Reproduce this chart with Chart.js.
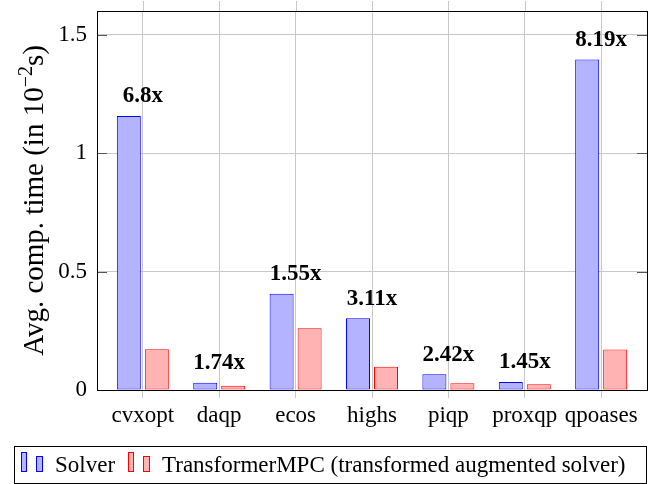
<!DOCTYPE html>
<html>
<head>
<meta charset="utf-8">
<script src="https://cdn.jsdelivr.net/npm/chart.js@4"></script>
<style>
  html, body { margin: 0; padding: 0; background: #fff; }
</style>
</head>
<body>
<canvas id="chart" width="656" height="484"></canvas>
<script>
const categories = ["cvxopt", "daqp", "ecos", "highs", "piqp", "proxqp", "qpoases"];
const solverTimes = [1.157, 0.031, 0.406, 0.303, 0.067, 0.034, 1.395];
const transformerTimes = [0.172, 0.018, 0.261, 0.098, 0.028, 0.024, 0.171];
const speedups = ["6.8x", "1.74x", "1.55x", "3.11x", "2.42x", "1.45x", "8.19x"];
const yTicks = [0, 0.5, 1, 1.5];
const seriesNames = ["Solver", "TransformerMPC (transformed augmented solver)"];

const FONT = "'Liberation Serif', 'Times New Roman', serif";
const gridColor = "#c8c8c8";
const blueFill = "#b3b3ff", blueLine = "#0000ff";
const redFill = "#ffb3b3", redLine = "#ff0000";

// axis box, inner ticks, speedup labels, y title and legend
const extrasPlugin = {
    id: "extras",
    afterDraw(chart) {
        const ctx = chart.ctx;
        const area = chart.chartArea;
        const xs = chart.scales.x, ys = chart.scales.y;
        ctx.save();

        // grid lines poke out above the box
        ctx.strokeStyle = gridColor;
        ctx.lineWidth = 1;
        categories.forEach((c, i) => {
            let x = Math.round(xs.getPixelForValue(i)) + 0.5;
            ctx.beginPath();
            ctx.moveTo(x, area.top - 10);
            ctx.lineTo(x, area.top);
            ctx.stroke();
        });

        // y ticks inside, both sides
        ctx.strokeStyle = "#555";
        yTicks.forEach(v => {
            let y = Math.round(ys.getPixelForValue(v)) + 0.5;
            ctx.beginPath();
            ctx.moveTo(area.left, y);
            ctx.lineTo(area.left + 10, y);
            ctx.moveTo(area.right - 10, y);
            ctx.lineTo(area.right, y);
            ctx.stroke();
        });

        // box
        ctx.strokeStyle = "#000";
        ctx.strokeRect(Math.round(area.left) + 0.5, Math.round(area.top) + 0.5,
            Math.round(area.right - area.left), Math.round(area.bottom - area.top));

        // speedup labels
        ctx.fillStyle = "#000";
        ctx.font = "bold 23px " + FONT;
        ctx.textAlign = "center";
        ctx.textBaseline = "alphabetic";
        speedups.forEach((s, i) => {
            ctx.fillText(s, xs.getPixelForValue(i), ys.getPixelForValue(solverTimes[i]) - 13.5);
        });

        // y title with superscript
        const parts = [
            { t: "Avg. comp. time (in 10", size: 29, dy: 0 },
            { t: "\u22122", size: 20, dy: -11 },
            { t: "s)", size: 29, dy: 0 }
        ];
        let total = 0;
        parts.forEach(p => {
            ctx.font = p.size + "px " + FONT;
            p.w = ctx.measureText(p.t).width;
            total += p.w;
        });
        ctx.translate(43, (area.top + area.bottom) / 2);
        ctx.rotate(-Math.PI / 2);
        ctx.textAlign = "left";
        let cx = -total / 2;
        parts.forEach(p => {
            ctx.font = p.size + "px " + FONT;
            ctx.fillText(p.t, cx, p.dy);
            cx += p.w;
        });
        ctx.setTransform(1, 0, 0, 1, 0, 0);

        // legend
        ctx.strokeStyle = "#000";
        ctx.strokeRect(14.5, 446.5, 632, 37);
        const drawIcon = (x, fill, line) => {
            ctx.fillStyle = fill;
            ctx.strokeStyle = line;
            ctx.fillRect(x + 0.5, 452.5, 5, 19);
            ctx.strokeRect(x + 0.5, 452.5, 5, 19);
            ctx.fillRect(x + 15.5, 456.5, 6, 15);
            ctx.strokeRect(x + 15.5, 456.5, 6, 15);
        };
        drawIcon(21, blueFill, blueLine);
        drawIcon(128, redFill, redLine);
        ctx.fillStyle = "#000";
        ctx.font = "23px " + FONT;
        ctx.textAlign = "left";
        ctx.fillText(seriesNames[0], 55, 472);
        ctx.fillText(seriesNames[1], 162, 472);

        ctx.restore();
    }
};

new Chart(document.getElementById("chart"), {
    type: "bar",
    data: {
        datasets: [{
            label: seriesNames[0],
            data: solverTimes.map((v, i) => ({ x: i, y: v })),
            backgroundColor: blueFill,
            borderColor: blueLine,
            borderWidth: 1,
            borderSkipped: false
        }, {
            label: seriesNames[1],
            data: transformerTimes.map((v, i) => ({ x: i, y: v })),
            backgroundColor: redFill,
            borderColor: redLine,
            borderWidth: 1,
            borderSkipped: false
        }]
    },
    options: {
        responsive: false,
        animation: false,
        layout: { padding: { left: 0, top: 11, right: 9, bottom: 44 } },
        datasets: { bar: { categoryPercentage: 0.733, barPercentage: 0.857 } },
        plugins: { legend: { display: false }, tooltip: { enabled: false } },
        scales: {
            x: {
                type: "linear",
                min: -0.6,
                max: 6.6,
                offset: false,
                afterBuildTicks: s => { s.ticks = categories.map((c, i) => ({ value: i })); },
                afterFit: s => { s.height = 50; s.paddingLeft = 0; s.paddingRight = 0; },
                ticks: {
                    callback: v => categories[v],
                    font: { family: FONT, size: 23 },
                    color: "#000",
                    padding: 4,
                    autoSkip: false,
                    maxRotation: 0
                },
                grid: { color: gridColor, tickLength: 8, offset: false },
                border: { display: false }
            },
            y: {
                min: 0,
                max: 1.6,
                afterBuildTicks: s => { s.ticks = yTicks.map(v => ({ value: v })); },
                afterFit: s => { s.width = 97; s.paddingTop = 0; s.paddingBottom = 0; },
                ticks: {
                    callback: v => String(v),
                    font: { family: FONT, size: 23 },
                    color: "#000",
                    padding: 10
                },
                grid: { color: gridColor, drawTicks: false },
                border: { display: false }
            }
        }
    },
    plugins: [extrasPlugin]
});
</script>
</body>
</html>
